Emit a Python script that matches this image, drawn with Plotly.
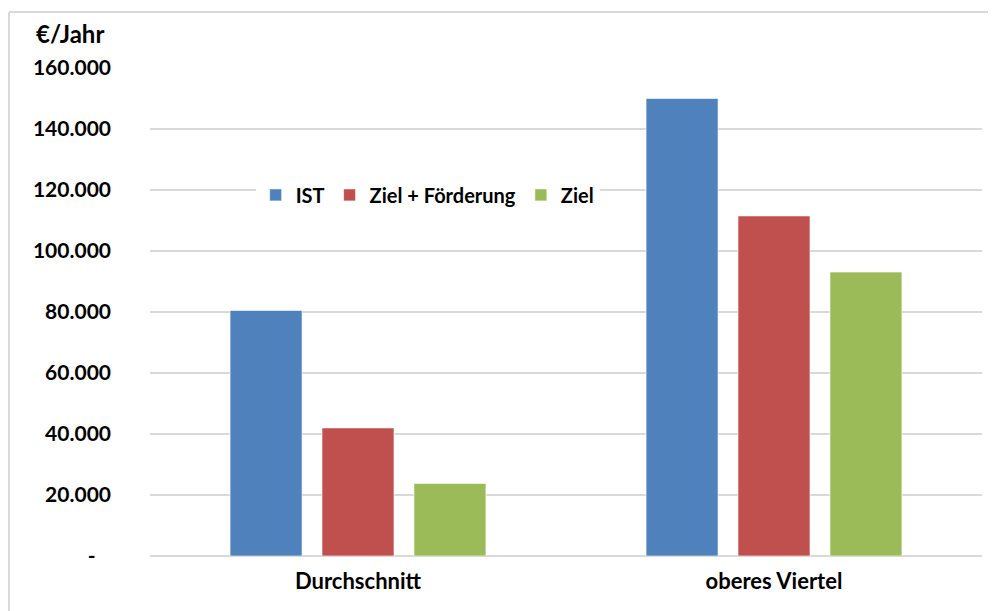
import plotly.graph_objects as go

categories = ['Durchschnitt', 'oberes Viertel']
ist = [80500, 150000]
ziel_foerderung = [42000, 111500]
ziel = [23800, 93100]

tick_vals = [0, 20000, 40000, 60000, 80000, 100000, 120000, 140000, 160000]
tick_text = ['-\u00a0\u00a0\u00a0', '20.000', '40.000', '60.000', '80.000',
             '100.000', '120.000', '140.000', '160.000']

font_name = 'Lato'
line_col = 'rgba(255,255,255,0.6)'

fig = go.Figure(data=[
    go.Bar(name='IST', x=categories, y=ist,
           marker=dict(color='#4F81BD', line=dict(color=line_col, width=1))),
    go.Bar(name='Ziel + Förderung', x=categories, y=ziel_foerderung,
           marker=dict(color='#C0504D', line=dict(color=line_col, width=1))),
    go.Bar(name='Ziel', x=categories, y=ziel,
           marker=dict(color='#9BBB59', line=dict(color=line_col, width=1))),
])

# page body has an 8px margin, so the figure is 8px smaller than the window
fig.update_layout(
    width=988, height=603,
    margin=dict(l=142, r=14, t=60, b=55),
    paper_bgcolor='white', plot_bgcolor='white',
    barmode='group', bargap=0.337, bargroupgap=0.217,
    font=dict(family=font_name, color='black', size=20),
    legend=dict(orientation='h', x=0.127, y=0.74, xanchor='left', yanchor='middle',
                bgcolor='white', font=dict(size=20, family=font_name, weight='bold'),
                itemwidth=30, traceorder='normal'),
    xaxis=dict(showgrid=False, showline=False, ticks='',
               tickfont=dict(size=22, family=font_name, weight='bold'),
               ticklabelstandoff=10),
    yaxis=dict(range=[0, 160000], tickvals=tick_vals, ticktext=tick_text,
               showgrid=True, gridcolor='#d9d9d9', gridwidth=2,
               zeroline=True, zerolinecolor='#d9d9d9', zerolinewidth=2,
               showline=False, ticks='',
               tickfont=dict(size=21, family=font_name, weight='bold'),
               ticklabelstandoff=38),
    annotations=[dict(text='€/Jahr', x=-0.096, y=1.071, xref='paper', yref='paper',
                      xanchor='center', yanchor='middle', showarrow=False,
                      font=dict(size=24, family=font_name, weight='bold'))],
    shapes=[
        dict(type='line', xref='paper', yref='paper', x0=-0.1695, x1=1.1, y0=1.1148, y1=1.1148,
             line=dict(color='#d9d9d9', width=2)),
        dict(type='line', xref='paper', yref='paper', x0=-0.1695, x1=-0.1695, y0=-0.2, y1=1.1148,
             line=dict(color='#d9d9d9', width=2)),
    ],
)

fig.write_html('out.html')
